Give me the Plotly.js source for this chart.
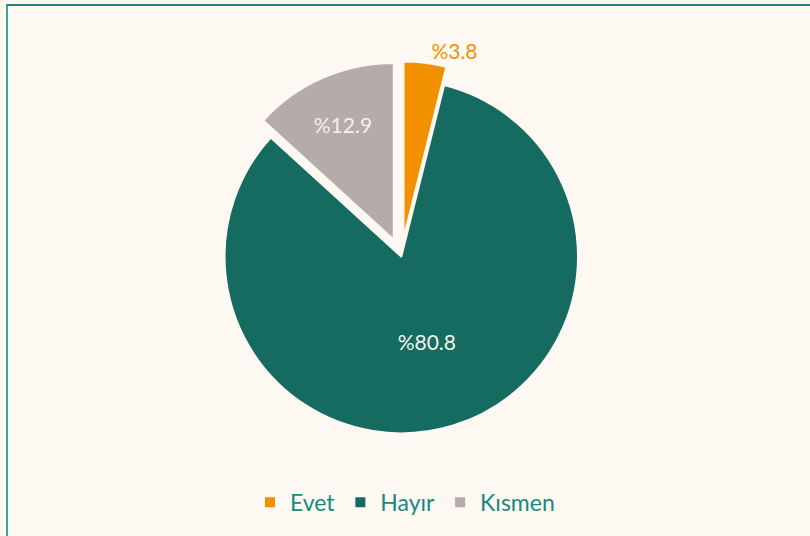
<!DOCTYPE html>
<html><head><meta charset="utf-8">
<script src="https://cdn.plot.ly/plotly-3.0.1.min.js"></script>
<style>
html,body{margin:0;padding:0;background:#FDF8F2;overflow:hidden;}
#wrap{position:relative;width:810px;height:536px;}
#chart{width:810px;height:536px;}
#frame{position:absolute;left:6px;top:4px;width:830px;height:560px;border-top:2px solid #1E8378;border-left:2px solid #3FA393;pointer-events:none;box-sizing:border-box;}
</style></head>
<body><div id="wrap"><div id="chart"></div><div id="frame"></div></div>
<script>
const categories = ['Evet', 'Hayır', 'Kısmen'];
const values = [3.8, 80.8, 12.9];
const valueLabels = ['%3.8', '%80.8', '%12.9'];
const sliceColors = ['#F29100', '#156B60', '#B3ACA8'];

const trace = {
  type: 'pie',
  labels: categories,
  values: values,
  text: valueLabels,
  textinfo: 'text',
  hoverinfo: 'label+text',
  sort: false,
  direction: 'clockwise',
  rotation: 0,
  pull: [0.105, 0, 0.105],
  textposition: ['outside', 'inside', 'inside'],
  insidetextorientation: 'horizontal',
  insidetextfont: {family: 'Lato, sans-serif', size: 21, color: '#F4F0EA'},
  outsidetextfont: {family: 'Lato, sans-serif', size: 21, color: '#F29100'},
  marker: {colors: sliceColors, line: {color: '#FDF8F2', width: 2}},
  domain: {x: [0.2543, 0.7365], y: [0.1569, 0.8856]}
};

const layout = {
  width: 810, height: 536,
  margin: {l: 0, r: 0, t: 0, b: 0},
  paper_bgcolor: '#FDF8F2',
  plot_bgcolor: '#FDF8F2',
  showlegend: true,
  legend: {
    orientation: 'h', x: 0.5, xanchor: 'center', y: 0.063, yanchor: 'middle',
    font: {family: 'Lato, sans-serif', size: 23, color: '#17897D'},
    itemclick: false, itemdoubleclick: false
  }
};

Plotly.newPlot('chart', [trace], layout, {displayModeBar: false, staticPlot: true});
</script>
</body></html>
